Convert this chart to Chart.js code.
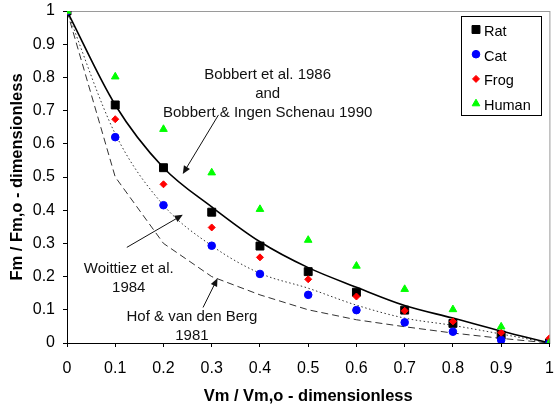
<!DOCTYPE html>
<html>
<head>
<meta charset="utf-8">
<script src="https://cdn.jsdelivr.net/npm/chart.js@4/dist/chart.umd.min.js"></script>
<style>
    html, body { margin: 0; padding: 0; background: #fff; }
    #wrap { width: 556px; height: 413px; }
</style>
</head>
<body>
<div id="wrap"><canvas id="chart" width="556" height="413"></canvas></div>
<script>
// relative shortening velocity (x)
const speeds = [0, 0.1, 0.2, 0.3, 0.4, 0.5, 0.6, 0.7, 0.8, 0.9, 1];

// measured force, per species
const rat   = [1, 0.717, 0.528, 0.394, 0.292, 0.215, 0.153, 0.099, 0.059, 0.024, 0];
const cat   = [1, 0.620, 0.415, 0.293, 0.208, 0.145, 0.099, 0.062, 0.034, 0.009, 0];
const frog  = [1, 0.674, 0.478, 0.348, 0.258, 0.192, 0.140, 0.097, 0.065, 0.031, 0.014];
const human = [1, 0.802, 0.644, 0.513, 0.403, 0.310, 0.232, 0.162, 0.101, 0.049, 0];

// model curves
const bobbert  = [1, 0.717, 0.528, 0.410, 0.305, 0.227, 0.168, 0.113, 0.075, 0.036, 0];
const woittiez = [1, 0.630, 0.415, 0.293, 0.210, 0.165, 0.114, 0.075, 0.053, 0.027, 0];
const hof      = [1, 0.500, 0.300, 0.200, 0.145, 0.100, 0.070, 0.049, 0.030, 0.014, 0];

const tickValues = [0, 0.1, 0.2, 0.3, 0.4, 0.5, 0.6, 0.7, 0.8, 0.9, 1];
const tickLabels = ["0", "0.1", "0.2", "0.3", "0.4", "0.5", "0.6", "0.7", "0.8", "0.9", "1"];

const FONT = "'Liberation Sans', Arial, sans-serif";

function pts(ys) {
    return ys.map((y, i) => ({ x: speeds[i], y: y }));
}

// text labels and arrows, in data units
const notes = [
    { x: 0.416, y: 0.807, lines: ["Bobbert et al. 1986", "and", "Bobbert & Ingen Schenau 1990"],
      from: [0.314, 0.687], to: [0.240, 0.509] },
    { x: 0.128, y: 0.223, lines: ["Woittiez et al.", "1984"],
      from: [0.124, 0.288], to: [0.240, 0.386] },
    { x: 0.259, y: 0.078, lines: ["Hof & van den Berg", "1981"],
      from: [0.282, 0.107], to: [0.312, 0.195] }
];

function noPad(s) {
    s.paddingTop = 0;
    s.paddingBottom = 0;
    s.paddingLeft = 0;
    s.paddingRight = 0;
}

const plotFrame = {
    id: "plotFrame",
    beforeDraw(chart) {
        const a = chart.chartArea;
        const ctx = chart.ctx;
        ctx.save();
        ctx.strokeStyle = "#9a9a9a";
        ctx.lineWidth = 1;
        ctx.strokeRect(a.left + 0.5, a.top + 0.5, a.right - a.left, a.bottom - a.top);
        ctx.restore();
    }
};

const notesPlugin = {
    id: "notes",
    afterDatasetsDraw(chart) {
        const ctx = chart.ctx;
        const xs = chart.scales.x, ys = chart.scales.y;
        ctx.save();
        ctx.font = "15px " + FONT;
        ctx.fillStyle = "#111";
        ctx.textAlign = "center";
        ctx.textBaseline = "middle";
        notes.forEach(n => {
            const px = xs.getPixelForValue(n.x);
            const py = ys.getPixelForValue(n.y);
            n.lines.forEach((t, i) => ctx.fillText(t, px, py + i * 19));

            const x1 = xs.getPixelForValue(n.from[0]), y1 = ys.getPixelForValue(n.from[1]);
            const x2 = xs.getPixelForValue(n.to[0]), y2 = ys.getPixelForValue(n.to[1]);
            const ang = Math.atan2(y2 - y1, x2 - x1);
            ctx.strokeStyle = "#111";
            ctx.lineWidth = 1;
            ctx.beginPath();
            ctx.moveTo(x1, y1);
            ctx.lineTo(x2 - 5 * Math.cos(ang), y2 - 5 * Math.sin(ang));
            ctx.stroke();
            ctx.beginPath();
            ctx.moveTo(x2, y2);
            ctx.lineTo(x2 - 8 * Math.cos(ang) + 3.5 * Math.sin(ang), y2 - 8 * Math.sin(ang) - 3.5 * Math.cos(ang));
            ctx.lineTo(x2 - 8 * Math.cos(ang) - 3.5 * Math.sin(ang), y2 - 8 * Math.sin(ang) + 3.5 * Math.cos(ang));
            ctx.closePath();
            ctx.fill();
        });
        ctx.restore();
    }
};

const boxLegend = {
    id: "boxLegend",
    afterDraw(chart) {
        const ctx = chart.ctx;
        const items = chart.data.datasets.filter(d => d.showInBox);
        const left = 461, top = 16, w = 80, h = 99, step = 24.7;
        ctx.save();
        ctx.fillStyle = "#fff";
        ctx.fillRect(left, top, w, h);
        ctx.strokeStyle = "#000";
        ctx.lineWidth = 1;
        ctx.strokeRect(left + 0.5, top + 0.5, w, h);
        items.forEach((d, i) => {
            const cy = top + 16 + i * step;
            ctx.fillStyle = d.backgroundColor;
            ctx.strokeStyle = d.borderColor;
            ctx.lineWidth = 1;
            Chart.helpers.drawPoint(ctx, { pointStyle: d.pointStyle, radius: d.pointRadius, rotation: 0, borderWidth: 1 }, 476, cy - 2.5);
            ctx.fillStyle = "#000";
            ctx.font = "14.5px " + FONT;
            ctx.textAlign = "left";
            ctx.textBaseline = "middle";
            ctx.fillText(d.label, 484, cy);
        });
        ctx.restore();
    }
};

new Chart(document.getElementById("chart"), {
    type: "scatter",
    data: {
        datasets: [
            {
                label: "Bobbert", data: pts(bobbert), showLine: true, pointRadius: 0,
                borderColor: "#000", borderWidth: 1.6, cubicInterpolationMode: "monotone", order: 10
            },
            {
                label: "Woittiez", data: pts(woittiez), showLine: true, pointRadius: 0,
                borderColor: "#333", borderWidth: 1, borderDash: [1.5, 2.5], cubicInterpolationMode: "monotone", order: 11
            },
            {
                label: "Hof", data: pts(hof), showLine: true, pointRadius: 0,
                borderColor: "#333", borderWidth: 1, borderDash: [7, 4], tension: 0, order: 12
            },
            {
                label: "Rat", data: pts(rat), showInBox: true, pointStyle: "rect", pointRadius: 5.6,
                backgroundColor: "#000", borderColor: "#000", borderWidth: 1, order: 4
            },
            {
                label: "Cat", data: pts(cat), showInBox: true, pointStyle: "circle", pointRadius: 3.8,
                backgroundColor: "#0000ff", borderColor: "#0000ff", borderWidth: 1, order: 3
            },
            {
                label: "Frog", data: pts(frog), showInBox: true, pointStyle: "rectRot", pointRadius: 3.5,
                backgroundColor: "#ff0000", borderColor: "#ff0000", borderWidth: 1, order: 2
            },
            {
                label: "Human", data: pts(human), showInBox: true, pointStyle: "triangle", pointRadius: 4.4,
                backgroundColor: "#00ff00", borderColor: "#00ff00", borderWidth: 1, order: 1
            }
        ]
    },
    options: {
        responsive: false,
        animation: false,
        devicePixelRatio: 1,
        layout: { padding: { top: 11, right: 6, left: 0, bottom: 0 } },
        plugins: {
            legend: { display: false },
            tooltip: { enabled: false }
        },
        scales: {
            x: {
                type: "linear", min: 0, max: 1,
                afterBuildTicks: s => { s.ticks = tickValues.map(v => ({ value: v })); },
                afterFit: s => { s.height = 70; noPad(s); },
                ticks: {
                    callback: (v, i) => tickLabels[i],
                    font: { size: 16, family: FONT }, color: "#000",
                    padding: 12, maxRotation: 0, autoSkip: false
                },
                grid: { drawOnChartArea: false, drawTicks: true, tickLength: 4, color: "#000" },
                border: { color: "#000", width: 1 },
                title: {
                    display: true, text: "Vm / Vm,o - dimensionless", color: "#000",
                    font: { size: 16.5, weight: "bold", family: FONT }, padding: { top: 0, bottom: 7 }
                }
            },
            y: {
                type: "linear", min: 0, max: 1,
                afterBuildTicks: s => { s.ticks = tickValues.map(v => ({ value: v })); },
                afterFit: s => { s.width = 67; noPad(s); },
                ticks: {
                    callback: (v, i) => tickLabels[i],
                    font: { size: 16, family: FONT }, color: "#000",
                    padding: 8, autoSkip: false
                },
                grid: { drawOnChartArea: false, drawTicks: true, tickLength: 4, color: "#000" },
                border: { color: "#000", width: 1 },
                title: {
                    display: true, text: "Fm / Fm,o - dimensionless", color: "#000",
                    font: { size: 16.5, weight: "bold", family: FONT }, padding: { top: 8, bottom: 0 }
                }
            }
        }
    },
    plugins: [plotFrame, notesPlugin, boxLegend]
});
</script>
</body>
</html>
